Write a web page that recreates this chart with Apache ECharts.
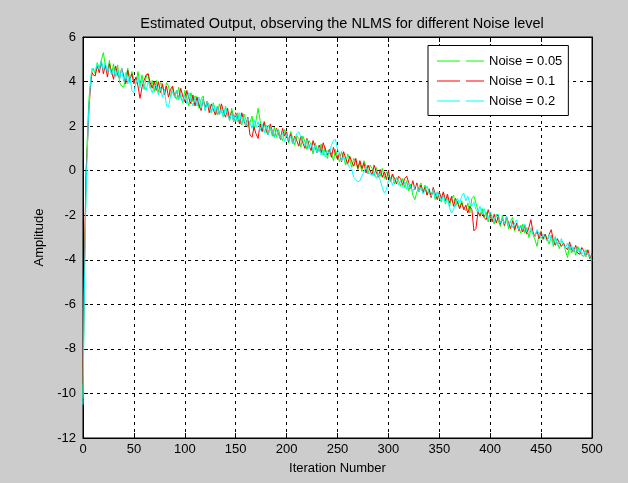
<!DOCTYPE html>
<html>
<head>
<meta charset="utf-8">
<script src="https://cdn.jsdelivr.net/npm/echarts@6/dist/echarts.min.js"></script>
<style>
  html, body { margin: 0; padding: 0; background: #cccccc; }
  #chart { width: 628px; height: 483px; }
</style>
</head>
<body>
<div id="chart"></div>
<script>
// iteration numbers the samples were read at
var iters = [0, 1, 2, 3, 4, 5, 6, 7, 8, 9, 10,
  12, 14, 16, 18, 20, 22, 24, 26, 28, 30, 32, 34, 36, 38, 40, 42, 44, 46, 48, 50,
  52, 54, 56, 58, 60, 62, 64, 66, 68, 70, 72, 74, 76, 78, 80, 82, 84, 86, 88, 90,
  92, 94, 96, 98, 100, 102, 104, 106, 108, 110, 112, 114, 116, 118, 120, 122, 124, 126, 128, 130,
  132, 134, 136, 138, 140, 142, 144, 146, 148, 150, 152, 154, 156, 158, 160, 162, 164, 166, 168, 170,
  172, 174, 176, 178, 180, 182, 184, 186, 188, 190, 192, 194, 196, 198, 200, 202, 204, 206, 208, 210,
  212, 214, 216, 218, 220, 222, 224, 226, 228, 230, 232, 234, 236, 238, 240, 242, 244, 246, 248, 250,
  252, 254, 256, 258, 260, 262, 264, 266, 268, 270, 272, 274, 276, 278, 280, 282, 284, 286, 288, 290,
  292, 294, 296, 298, 300, 302, 304, 306, 308, 310, 312, 314, 316, 318, 320, 322, 324, 326, 328, 330,
  332, 334, 336, 338, 340, 342, 344, 346, 348, 350, 352, 354, 356, 358, 360, 362, 364, 366, 368, 370,
  372, 374, 376, 378, 380, 382, 384, 386, 388, 390, 392, 394, 396, 398, 400, 402, 404, 406, 408, 410,
  412, 414, 416, 418, 420, 422, 424, 426, 428, 430, 432, 434, 436, 438, 440, 442, 444, 446, 448, 450,
  452, 454, 456, 458, 460, 462, 464, 466, 468, 470, 472, 474, 476, 478, 480, 482, 484, 486, 488, 490,
  492, 494, 496, 498, 500];

var noise005 = [-10.2, -6.0, -3.0, -0.5, 1.2, 2.4, 3.3, 3.8, 4.2, 4.5, 4.6,
  4.35, 4.85, 4.6, 4.95, 5.3, 4.7, 4.45, 4.95, 4.3, 4.8,
  4.2, 4.75, 3.95, 3.8, 3.75, 4.15, 4.6, 3.95, 4.45, 4.0,
  3.9, 4.45, 3.85, 4.3, 3.65, 4.2, 4.35, 3.7, 4.05, 3.55,
  4.05, 3.5, 3.95, 3.85, 3.4, 3.95, 3.8, 3.3, 3.75, 3.35,
  3.2, 3.75, 3.3, 3.05, 3.6, 3.25, 2.9, 3.5, 3.1, 3.35,
  3.3, 2.8, 3.2, 3.35, 2.7, 3.1, 2.95, 2.6, 3.05, 2.7,
  2.5, 3.0, 2.65, 2.4, 2.9, 2.55, 2.25, 2.8, 2.45, 2.2,
  2.6, 2.2, 2.05, 2.55, 2.3, 1.95, 2.15, 2.45, 1.85, 2.25,
  2.8, 2.25, 1.8, 2.15, 1.7, 2.05, 1.9, 1.55, 1.95, 1.5,
  1.85, 1.5, 1.35, 1.85, 1.6, 1.25, 1.75, 1.45, 1.15, 1.55,
  1.45, 1.05, 1.55, 1.3, 0.95, 1.35, 1.2, 0.75, 1.25, 0.95,
  0.85, 1.2, 0.7, 1.05, 0.55, 0.95, 0.8, 0.45, 0.95, 0.65,
  0.4, 0.85, 0.6, 0.25, 0.75, 0.5, 0.15, 0.55, 0.4, 0.05,
  0.35, -0.05, 0.45, 0.2, -0.15, 0.25, 0.1, -0.25, 0.15, -0.2,
  -0.25, 0.1, -0.35, -0.05, -0.2, -0.5, -0.15, -0.6, -0.3, -0.45,
  -0.7, -0.35, -0.75, -0.45, -0.9, -0.6, -1.1, -1.3, -0.95, -0.75,
  -0.55, -1.0, -0.65, -1.1, -0.8, -1.2, -0.85, -1.3, -0.95, -1.25,
  -1.4, -1.0, -1.5, -1.15, -1.6, -1.25, -1.1, -1.6, -1.35, -1.7,
  -1.35, -1.7, -1.8, -1.45, -1.9, -1.25, -1.15, -1.45, -1.8, -2.0,
  -1.7, -2.1, -1.85, -2.3, -1.95, -2.15, -2.4, -1.95, -2.25, -2.5,
  -2.0, -2.5, -2.15, -2.6, -2.25, -2.1, -2.7, -2.35, -2.55, -2.8,
  -2.4, -2.8, -2.55, -3.0, -2.65, -2.85, -3.1, -3.4, -2.85, -2.7,
  -3.1, -2.85, -3.05, -3.3, -2.9, -3.4, -3.0, -3.25, -3.5, -3.15,
  -3.25, -3.6, -3.9, -3.35, -3.7, -3.45, -3.8, -3.4, -3.65, -3.8,
  -3.85, -3.55, -3.75, -3.95, -3.8];

var noise01 = [-9.6, -5.5, -2.5, 0.0, 0.8, 1.8, 2.9, 3.5, 4.1, 4.4, 4.3,
  4.25, 4.7, 4.4, 4.9, 4.35, 4.75, 4.2, 4.8, 4.45, 4.1,
  4.7, 4.3, 4.15, 4.6, 4.25, 3.9, 4.5, 4.1, 4.35, 3.9,
  4.2, 3.8, 3.25, 3.75, 4.05, 4.3, 4.35, 3.95, 3.7, 4.0,
  3.6, 4.0, 3.5, 3.9, 3.4, 3.8, 3.3, 3.65, 3.8, 3.3,
  3.6, 3.2, 3.7, 3.35, 3.1, 3.6, 3.25, 3.0, 3.4, 2.9,
  3.3, 2.95, 2.7, 3.2, 2.85, 3.1, 2.6, 3.0, 2.75, 2.5,
  2.9, 2.5, 3.0, 2.65, 2.4, 2.8, 2.3, 2.65, 2.2, 2.6,
  2.35, 2.1, 2.6, 2.25, 2.0, 2.4, 1.6, 1.5, 1.95, 1.65,
  1.45, 2.1, 1.75, 2.2, 1.85, 1.6, 2.1, 1.75, 1.5, 1.9,
  1.65, 1.4, 1.9, 1.55, 1.75, 1.3, 1.65, 1.2, 1.55, 1.35,
  1.1, 1.55, 1.25, 1.0, 1.45, 1.15, 0.9, 1.35, 1.05, 0.8,
  1.15, 0.8, 1.25, 0.95, 0.7, 0.95, 0.6, 1.05, 0.75, 0.5,
  0.8, 0.4, 0.85, 0.55, 0.3, 0.65, 0.4, 0.2, 0.55, 0.1,
  0.45, 0.1, 0.35, -0.1, 0.25, 0.0, -0.2, 0.25, -0.05, -0.3,
  0.05, -0.3, -0.05, -0.4, 0.0, -0.45, -0.15, -0.35, -0.6, -0.25,
  -0.35, -0.65, -0.35, -0.25, -0.55, -0.8, -0.45, -0.85, -0.55, -0.95,
  -0.65, -1.0, -0.75, -1.1, -0.85, -1.2, -0.75, -1.05, -1.3, -0.95,
  -1.25, -0.95, -1.35, -1.05, -1.45, -1.15, -1.6, -1.25, -1.45, -1.7,
  -1.45, -1.75, -1.55, -1.9, -1.6, -1.75, -2.7, -2.6, -1.85, -2.05,
  -1.85, -2.1, -2.2, -1.75, -2.05, -2.3, -1.95, -2.35, -2.05, -2.4,
  -2.15, -2.45, -2.05, -2.35, -2.6, -2.25, -2.65, -2.35, -2.7, -2.45,
  -2.75, -2.45, -2.85, -2.55, -2.2, -2.75, -2.95, -2.7, -3.05, -2.75,
  -3.05, -2.85, -3.15, -2.85, -2.65, -3.15, -3.35, -3.05, -3.25, -3.4,
  -3.25, -3.45, -3.55, -3.2, -3.55, -3.65, -3.35, -3.7, -3.75, -3.45,
  -3.6, -3.85, -3.55, -3.95, -3.7];

var noise02 = [-10.5, -6.5, -3.5, -1.0, 0.6, 2.0, 3.0, 3.7, 4.3, 4.6, 4.5,
  4.45, 4.8, 4.55, 4.95, 4.5, 4.85, 4.4, 4.65, 4.3, 4.6,
  4.2, 4.55, 4.1, 4.6, 4.0, 4.4, 3.9, 4.3, 3.6, 3.5,
  3.95, 4.2, 3.7, 4.1, 3.85, 3.6, 4.0, 3.75, 3.5, 3.8,
  3.85, 3.4, 3.75, 3.3, 3.65, 2.9, 2.85, 3.35, 3.55, 3.3,
  3.6, 3.2, 3.45, 3.1, 3.4, 3.0, 3.5, 3.15, 2.9, 3.3,
  2.9, 3.3, 2.8, 3.2, 2.7, 3.1, 2.85, 2.6, 3.0, 2.65,
  2.9, 2.5, 2.8, 2.4, 2.85, 2.5, 2.3, 2.6, 2.2, 2.55,
  2.2, 2.6, 2.1, 2.4, 2.0, 2.35, 2.15, 1.9, 2.3, 1.95,
  2.2, 1.8, 2.1, 1.7, 2.05, 1.6, 1.95, 1.75, 1.5, 1.85,
  1.6, 1.45, 1.7, 1.3, 1.65, 1.35, 1.55, 1.2, 1.45, 1.65,
  1.75, 1.5, 1.35, 1.1, 1.4, 1.0, 1.25, 0.9, 1.15, 0.8,
  1.05, 0.7, 0.95, 0.6, 0.9, 0.75, 1.15, 1.35, 1.4, 0.95,
  0.75, 0.45, 0.65, 0.35, 0.3, 0.15, 0.05, -0.3, -0.4, -0.5,
  -0.45, -0.25, -0.05, 0.15, -0.05, -0.15, -0.2, -0.05, -0.35, -0.15,
  -0.45, -0.75, -1.0, -0.85, -0.45, -0.35, -0.65, -0.4, -0.3, -0.65,
  -0.45, -0.75, -0.5, -0.85, -0.55, -0.75, -0.95, -0.7, -0.65, -0.95,
  -0.75, -1.05, -0.85, -0.7, -1.05, -1.15, -0.85, -1.25, -0.95, -1.15,
  -1.35, -1.1, -1.45, -1.25, -1.65, -1.9, -1.75, -1.45, -1.25, -1.45,
  -1.15, -1.0, -1.35, -1.15, -1.45, -1.6, -1.4, -1.75, -1.85, -1.6,
  -1.95, -1.7, -2.05, -2.15, -1.85, -2.05, -2.25, -2.0, -1.95, -2.35,
  -2.15, -2.4, -2.05, -2.45, -2.25, -2.55, -2.35, -2.2, -2.65, -2.45,
  -2.65, -2.4, -2.75, -2.85, -2.55, -2.85, -2.95, -2.65, -2.85, -3.05,
  -2.85, -3.05, -3.15, -2.85, -3.15, -3.25, -2.95, -3.35, -3.2, -3.05,
  -3.35, -3.45, -3.25, -3.55, -3.35, -3.65, -3.45, -3.65, -3.5, -3.75,
  -3.6, -3.85, -3.7, -3.9, -4.05];

var names = ['Noise = 0.05', 'Noise = 0.1', 'Noise = 0.2'];
var colors = ['#00ff00', '#ff0000', '#00ffff'];
var values = [noise005, noise01, noise02];

var chart = echarts.init(document.getElementById('chart'));
window.addEventListener('resize', function () {
  chart.resize();
});

var font = 'Liberation Sans, Arial, sans-serif';
var gridLine = { show: true, lineStyle: { color: '#000', type: [3, 4], width: 1 } };

var series = values.map(function (vals, k) {
  return {
    name: names[k],
    type: 'line',
    symbol: 'none',
    showSymbol: false,
    color: colors[k],
    lineStyle: { width: 1, color: colors[k] },
    data: iters.map(function (n, i) { return [n, vals[i]]; })
  };
});

var option = {
  backgroundColor: '#cccccc',
  animation: false,
  title: {
    text: 'Estimated Output, observing the NLMS for different Noise level',
    left: 337,
    top: 11,
    textAlign: 'center',
    textStyle: { fontFamily: font, fontSize: 14.5, fontWeight: 'normal', color: '#000' }
  },
  legend: {
    orient: 'vertical',
    left: 428,
    top: 45.5,
    backgroundColor: '#fff',
    borderColor: '#000',
    borderWidth: 1,
    borderRadius: 0,
    padding: [9, 6, 8, 9],
    itemWidth: 47,
    itemHeight: 1,
    itemGap: 7,
    icon: 'path://M0,0h23v1h-23zM29,0h18v1h-18z',
    textStyle: { fontFamily: font, fontSize: 13, color: '#000' },
    data: names
  },
  grid: {
    left: 83, right: 36, top: 37, bottom: 45,
    show: true,
    backgroundColor: '#fff',
    borderColor: '#000',
    borderWidth: 1
  },
  xAxis: [{
    type: 'value',
    min: 0, max: 500, interval: 50,
    name: 'Iteration Number',
    nameLocation: 'middle',
    nameGap: 24,
    nameTextStyle: { fontFamily: font, fontSize: 13, color: '#000' },
    axisLine: { onZero: false, lineStyle: { color: '#000' } },
    axisTick: { inside: true, length: 5, lineStyle: { color: '#000' } },
    axisLabel: { fontFamily: font, fontSize: 13, color: '#000', margin: 5 },
    splitLine: gridLine
  }, {
    type: 'value', position: 'top',
    min: 0, max: 500, interval: 50,
    axisLine: { onZero: false, lineStyle: { color: '#000' } },
    axisTick: { inside: true, length: 5, lineStyle: { color: '#000' } },
    axisLabel: { show: false },
    splitLine: { show: false }
  }],
  yAxis: [{
    type: 'value',
    min: -12, max: 6, interval: 2,
    name: 'Amplitude',
    nameLocation: 'middle',
    nameGap: 36,
    nameTextStyle: { fontFamily: font, fontSize: 13, color: '#000' },
    axisLine: { show: true, onZero: false, lineStyle: { color: '#000' } },
    axisTick: { show: true, inside: true, length: 5, lineStyle: { color: '#000' } },
    axisLabel: { fontFamily: font, fontSize: 13, color: '#000', margin: 7 },
    splitLine: gridLine
  }, {
    type: 'value', position: 'right',
    min: -12, max: 6, interval: 2,
    axisLine: { show: true, onZero: false, lineStyle: { color: '#000' } },
    axisTick: { show: true, inside: true, length: 5, lineStyle: { color: '#000' } },
    axisLabel: { show: false },
    splitLine: { show: false }
  }],
  series: series
};

chart.setOption(option);
</script>
</body>
</html>
